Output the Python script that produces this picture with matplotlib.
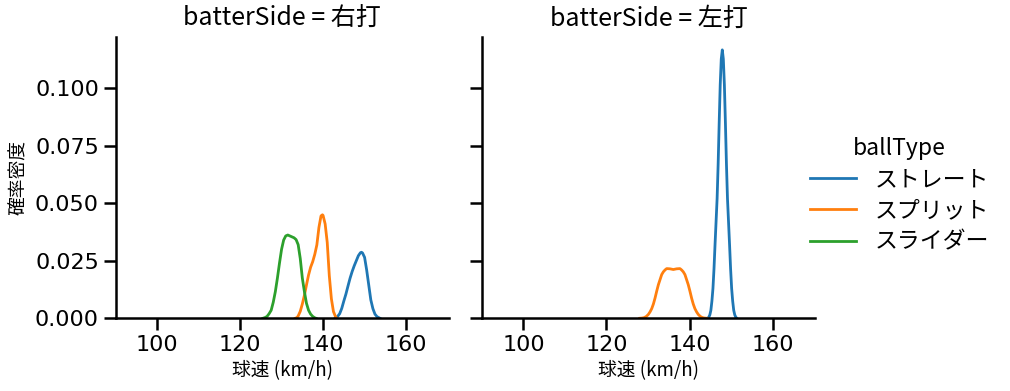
import matplotlib
matplotlib.use("Agg")
import matplotlib.pyplot as plt
from matplotlib.ticker import FormatStrFormatter

plt.rcParams['font.family'] = ['Noto Sans CJK JP', 'DejaVu Sans']

# ---- data: density curves (km/h, density) ----
panels = ["右打", "左打"]
ball_types = ["ストレート", "スプリット", "スライダー"]
colors = ["#1f77b4", "#ff7f0e", "#2ca02c"]

# 右打 (right-handed batters)
r_straight_x = [142.9, 143.5, 144.0, 144.5, 145.0, 145.5, 146.0, 146.5, 147.0, 147.5,
                148.0, 148.5, 149.0, 149.25, 149.5, 150.0, 150.5, 151.0, 151.5, 152.0,
                152.5, 153.0, 153.7]
r_straight_y = [0.0, 0.0008, 0.002, 0.0043, 0.0075, 0.0105, 0.014, 0.0174, 0.0203, 0.0228,
                0.025, 0.0272, 0.0285, 0.0287, 0.0284, 0.0265, 0.021, 0.0145, 0.008, 0.0042,
                0.0018, 0.0007, 0.0]

r_split_x = [133.3, 133.7, 134.0, 134.5, 135.0, 135.5, 136.0, 136.5, 137.0, 137.5,
             138.0, 138.5, 139.0, 139.5, 139.85, 140.0, 140.5, 141.0, 141.5, 142.0,
             142.5, 143.0, 143.3]
r_split_y = [0.0, 0.0003, 0.001, 0.003, 0.0062, 0.010, 0.0145, 0.0188, 0.0222, 0.0246,
             0.0278, 0.0319, 0.0395, 0.0445, 0.0450, 0.0447, 0.041, 0.033, 0.0185, 0.0085,
             0.0029, 0.0007, 0.0]

r_slider_x = [125.5, 126.0, 126.5, 127.0, 127.5, 128.0, 128.5, 129.0, 129.5, 130.0,
              130.5, 131.0, 131.5, 132.0, 132.5, 133.0, 133.5, 134.0, 134.5, 135.0,
              135.5, 136.0, 136.5, 137.0, 137.5, 138.0, 138.3]
r_slider_y = [0.0, 0.0003, 0.0008, 0.002, 0.0035, 0.007, 0.0116, 0.0175, 0.024, 0.030,
              0.034, 0.0358, 0.0362, 0.0358, 0.0354, 0.035, 0.0342, 0.032, 0.026, 0.0175,
              0.0116, 0.0065, 0.0035, 0.0018, 0.0008, 0.0002, 0.0]

# 左打 (left-handed batters)
l_straight_x = [144.4, 144.65, 144.9, 145.15, 145.4, 145.65, 145.9, 146.15, 146.4, 146.65,
                146.9, 147.15, 147.4, 147.65, 147.9, 148.15, 148.4, 148.65, 148.9, 149.15,
                149.4, 149.65, 149.9, 150.15, 150.4, 150.65, 150.9, 151.15, 151.4]
l_straight_y = [0.0, 0.0005, 0.0015, 0.0035, 0.0075, 0.013, 0.0215, 0.032, 0.042, 0.052,
                0.067, 0.085, 0.1016, 0.1127, 0.1167, 0.1127, 0.1016, 0.085, 0.067, 0.052,
                0.042, 0.032, 0.0215, 0.013, 0.0075, 0.0035, 0.0015, 0.0005, 0.0]

l_split_x = [128.0, 128.6, 129.1, 129.6, 130.1, 130.5, 130.9, 131.3, 131.7, 132.1,
             132.5, 132.9, 133.3, 133.7, 134.1, 134.5, 135.3, 136.1, 136.9, 137.7,
             138.1, 138.5, 138.9, 139.3, 139.7, 140.1, 140.5, 140.9, 141.3, 141.7,
             142.1, 142.6, 143.1, 143.6, 144.2]
l_split_y = [0.0, 0.0001, 0.0003, 0.0008, 0.0017, 0.0028, 0.0042, 0.0062, 0.0088, 0.0118,
             0.0146, 0.0168, 0.019, 0.0202, 0.021, 0.0216, 0.0215, 0.0212, 0.0215, 0.0216,
             0.021, 0.0202, 0.019, 0.0168, 0.0146, 0.0118, 0.0088, 0.0062, 0.0042, 0.0028,
             0.0017, 0.0008, 0.0003, 0.0001, 0.0]

curves = {
    "右打": [(r_straight_x, r_straight_y), (r_split_x, r_split_y), (r_slider_x, r_slider_y)],
    "左打": [(l_straight_x, l_straight_y), (l_split_x, l_split_y), None],
}

x_ticks = [100, 120, 140, 160]
y_ticks = [0.0, 0.025, 0.05, 0.075, 0.1]

# ---- figure ----
fig = plt.figure(figsize=(10.10, 3.91), dpi=100)
ax_l = fig.add_axes([0.1144, 0.186, 0.330, 0.7194])
ax_r = fig.add_axes([0.4772, 0.186, 0.330, 0.7194], sharey=ax_l)
axes = [ax_l, ax_r]

handles = []
for ax, side in zip(axes, panels):
    for i, c in enumerate(curves[side]):
        if c is None:
            continue
        h, = ax.plot(c[0], c[1], color=colors[i], lw=2.0, label=ball_types[i])
        if side == "右打":
            handles.append(h)
    ax.set_xlim(90, 170.3)
    ax.set_ylim(0, 0.1223)
    ax.set_xticks(x_ticks)
    ax.set_yticks(y_ticks)
    ax.yaxis.set_major_formatter(FormatStrFormatter('%.3f'))
    for s in ["top", "right"]:
        ax.spines[s].set_visible(False)
    for s in ["left", "bottom"]:
        ax.spines[s].set_linewidth(1.8)
    ax.tick_params(axis='both', width=1.8, length=8.5, labelsize=16)
    for lab in ax.get_xticklabels() + ax.get_yticklabels():
        lab.set_fontfamily(['DejaVu Sans'])
    ax.set_title(f"batterSide = {side}", fontsize=18, pad=8)
    ax.set_xlabel("球速 (km/h)", fontsize=13.5, labelpad=4)

ax_l.set_ylabel("確率密度", fontsize=13.5)
ax_r.tick_params(axis='y', labelleft=False)

leg = fig.legend(handles=handles, labels=ball_types, title="ballType",
                 loc="center left", bbox_to_anchor=(0.782, 0.50), frameon=False,
                 fontsize=16.5, title_fontsize=16.5, handlelength=2.0,
                 labelspacing=0.35)

fig.savefig("out.png", dpi=100)
